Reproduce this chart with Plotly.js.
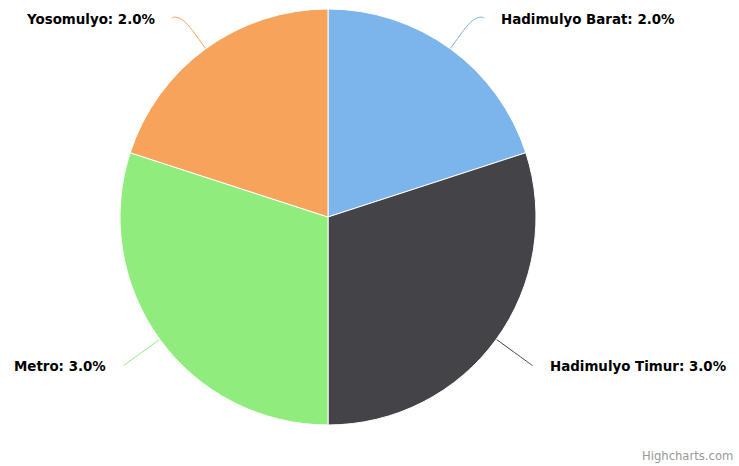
<!DOCTYPE html>
<html>
<head>
<meta charset="utf-8">
<script src="https://cdn.plot.ly/plotly-3.0.1.min.js"></script>
<style>html,body{margin:0;padding:0;background:#fff;}#chart{width:739px;height:466px;}</style>
</head>
<body>
<div id="chart"></div>
<script>
const labels = ['Hadimulyo Barat', 'Hadimulyo Timur', 'Metro', 'Yosomulyo'];
const values = [2, 3, 3, 2];
const colors = ['#7cb5ec', '#434348', '#90ed7d', '#f7a35c'];

const W = 739, H = 466;
const cx = 328, cy = 217, r = 208;
const dist = 45, labelGap = 15, minY = 18, maxY = H - 18;

const px = x => x / W;
const py = y => 1 - y / H;

const total = values.reduce((a, b) => a + b, 0);
const shapes = [];
const annotations = [];
let cum = 0;
values.forEach((v, i) => {
  const mid = (cum + v / 2) / total * 2 * Math.PI;
  cum += v;
  const s = Math.sin(mid), c = Math.cos(mid);
  const R = r + dist;
  let y = cy - R * c;
  y = Math.max(minY, Math.min(maxY, y));
  const right = s >= 0;
  const x = cx + (right ? 1 : -1) * Math.sqrt(Math.max(0, R * R - (y - cy) * (y - cy)));
  const Ex = cx + r * s, Ey = cy - r * c;
  const Bx = cx + (r + dist / 2) * s, By = cy - (r + dist / 2) * c;
  const path = `M ${px(x)} ${py(y)} C ${px(x)} ${py(y)} ${px(2 * Bx - Ex)} ${py(2 * By - Ey)} ${px(Bx)} ${py(By)} L ${px(Ex)} ${py(Ey)}`;
  shapes.push({type: 'path', xref: 'paper', yref: 'paper', path: path, line: {color: colors[i], width: 1}, layer: 'below'});
  annotations.push({
    xref: 'paper', yref: 'paper',
    x: px(x + (right ? labelGap : -labelGap)), y: py(y + 1),
    xanchor: right ? 'left' : 'right', yanchor: 'middle',
    text: '<b>' + labels[i] + ': ' + v.toFixed(1) + '%</b>',
    showarrow: false,
    font: {family: 'DejaVu Sans, Verdana, sans-serif', size: 13.4, color: '#000000'}
  });
});

annotations.push({
  xref: 'paper', yref: 'paper', x: px(735), y: py(456),
  xanchor: 'right', yanchor: 'middle', showarrow: false,
  text: 'Highcharts.com',
  font: {family: 'DejaVu Sans, Verdana, sans-serif', size: 11.6, color: '#999999'}
});

const trace = {
  type: 'pie',
  labels: labels,
  values: values,
  sort: false,
  direction: 'clockwise',
  rotation: 0,
  textinfo: 'none',
  hoverinfo: 'label+value',
  marker: {colors: colors, line: {color: '#ffffff', width: 1}},
  domain: {x: [(cx - r) / W, (cx + r) / W], y: [(H - cy - r) / H, (H - cy + r) / H]}
};

Plotly.newPlot('chart', [trace], {
  width: W, height: H,
  margin: {l: 0, r: 0, t: 0, b: 0},
  showlegend: false,
  paper_bgcolor: '#ffffff',
  plot_bgcolor: '#ffffff',
  shapes: shapes,
  annotations: annotations
}, {displayModeBar: false, staticPlot: true});
</script>
</body>
</html>
